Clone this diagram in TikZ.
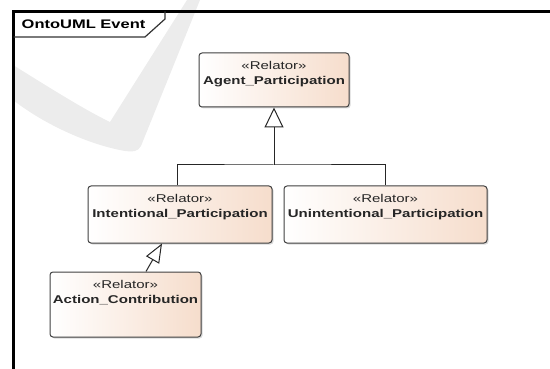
\documentclass[tikz,border=0pt]{standalone}
\usepackage{fontspec}
\setmainfont{Liberation Sans}[FakeStretch=1.33]
\usetikzlibrary{arrows.meta, positioning, shadows}
\definecolor{peach}{RGB}{246,221,204}
\definecolor{wmark}{RGB}{236,236,236}
\tikzset{
  relator/.style={draw=black!75, line width=1pt, rounded corners=3pt, left color=white, right color=peach,
    drop shadow={shadow xshift=1.5pt, shadow yshift=-1.5pt, opacity=0.3}},
  rtext/.style={anchor=north, yshift=-5.5pt, align=center, text=black!85, font=\fontsize{11.3}{14.5}\selectfont},
  gen/.style={line width=1pt, draw=black!85, -{Triangle[length=20pt, width=19pt, fill=white]}},
}

\begin{document}
\begin{tikzpicture}[x=1pt,y=-1pt,thick]
\useasboundingbox (0,0) rectangle (550,369);
% watermark
\fill[wmark] (187,0) -- (200,0) -- (141,146) .. controls (138,152) and (132,152) .. (125,151) .. controls (90,145) and (45,125) .. (13,100) -- (13,65) .. controls (50,88) and (85,110) .. (110,122) -- cycle;
% frame
\draw[line width=3pt] (13.5,369) -- (13.5,11.5) -- (550,11.5);
\draw[line width=1.2pt, black!80] (13.5,37) -- (145,37) -- (165,19) -- (165,11.5);
\node[anchor=west, font=\fontsize{12.4}{15}\selectfont\bfseries] (title) at (18,24.5) {OntoUML Event};

\node[relator, minimum width=150pt, minimum height=54pt, label={[rtext, name=agentlbl]north:{«Relator»\\\textbf{Agent\_Participation}}}] (agent) at (274,80) {};
\node[relator, minimum width=184pt, minimum height=57pt, label={[rtext, name=intentlbl]north:{«Relator»\\\textbf{Intentional\_Participation}}}] (intent) at (180,214.5) {};
\node[relator, minimum width=203pt, minimum height=57pt, label={[rtext, name=unintentlbl]north:{«Relator»\\\textbf{Unintentional\_Participation}}}] (unintent) at (385.5,214.5) {};
\node[relator, minimum width=151pt, minimum height=65pt, label={[rtext, name=actionlbl]north:{«Relator»\\\textbf{Action\_Contribution}}}] (action) at (125.5,304.5) {};

% generalizations
\coordinate (fork) at (274,165);
\draw[line width=1pt, black!85] ([xshift=-3pt]intent.north) |- (fork) -| (unintent.north);
\draw[gen] (fork) -- (agent.south);
\draw[gen, -{Triangle[length=19pt, width=15pt, fill=white]}] ([xshift=20.5pt]action.north) -- ([xshift=-18pt]intent.south);
\end{tikzpicture}
\end{document}
